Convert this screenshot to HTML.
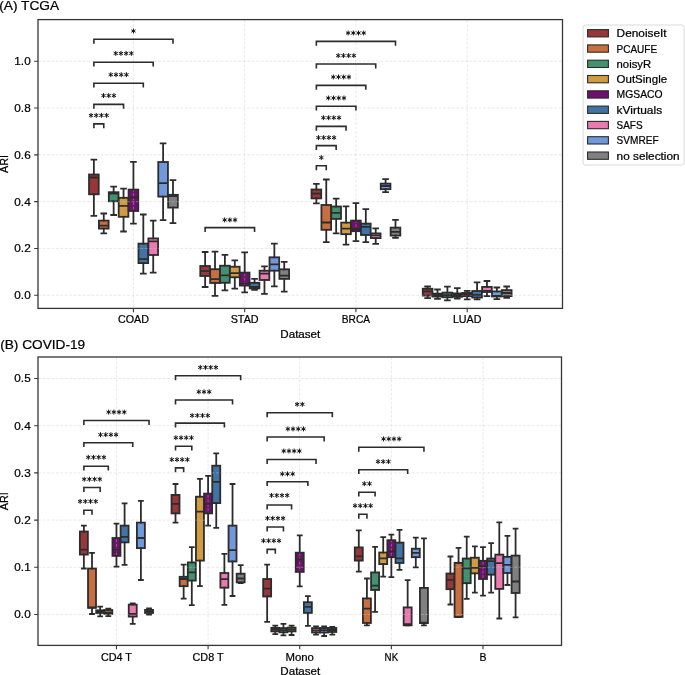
<!DOCTYPE html><html><head><meta charset="utf-8"><style>html,body{margin:0;padding:0;background:#fff;width:685px;height:675px;overflow:hidden}svg{display:block;will-change:transform}text{font-family:"Liberation Sans", sans-serif;fill:#000;stroke:#000;stroke-width:0.22px}</style></head><body>
<svg width="685" height="675" viewBox="0 0 685 675">
<rect width="685" height="675" fill="#fff"/>
<text x="-0.8" y="9.8" font-size="13.2" textLength="60" lengthAdjust="spacingAndGlyphs">(A) TCGA</text>
<text x="0.2" y="349" font-size="13.3" textLength="85" lengthAdjust="spacingAndGlyphs">(B) COVID-19</text>
<rect x="89.03" y="174.5" width="9.69" height="19.8" fill="#96373a" stroke="#2c2c2c" stroke-width="1.8"/>
<rect x="98.92" y="220.6" width="9.69" height="8" fill="#c86e41" stroke="#2c2c2c" stroke-width="1.8"/>
<rect x="108.81" y="192.2" width="9.69" height="9.1" fill="#429170" stroke="#2c2c2c" stroke-width="1.8"/>
<rect x="118.7" y="197.8" width="9.69" height="19" fill="#d09b43" stroke="#2c2c2c" stroke-width="1.8"/>
<rect x="128.59" y="189.6" width="9.69" height="21.4" fill="#70106e" stroke="#2c2c2c" stroke-width="1.8"/>
<rect x="138.47" y="243.6" width="9.69" height="19.5" fill="#4173a5" stroke="#2c2c2c" stroke-width="1.8"/>
<rect x="148.36" y="238.4" width="9.69" height="16.6" fill="#eb7ab1" stroke="#2c2c2c" stroke-width="1.8"/>
<rect x="158.25" y="162" width="9.69" height="34.6" fill="#7098da" stroke="#2c2c2c" stroke-width="1.8"/>
<rect x="168.14" y="194.8" width="9.69" height="12.8" fill="#808080" stroke="#2c2c2c" stroke-width="1.8"/>
<rect x="200.28" y="266" width="9.69" height="10" fill="#96373a" stroke="#2c2c2c" stroke-width="1.8"/>
<rect x="210.17" y="269.2" width="9.69" height="13.8" fill="#c86e41" stroke="#2c2c2c" stroke-width="1.8"/>
<rect x="220.06" y="265.7" width="9.69" height="17.1" fill="#429170" stroke="#2c2c2c" stroke-width="1.8"/>
<rect x="229.95" y="266.7" width="9.69" height="10.6" fill="#d09b43" stroke="#2c2c2c" stroke-width="1.8"/>
<rect x="239.84" y="272.6" width="9.69" height="13" fill="#70106e" stroke="#2c2c2c" stroke-width="1.8"/>
<rect x="249.72" y="282.8" width="9.69" height="5.6" fill="#4173a5" stroke="#2c2c2c" stroke-width="1.8"/>
<rect x="259.61" y="270.7" width="9.69" height="9.3" fill="#eb7ab1" stroke="#2c2c2c" stroke-width="1.8"/>
<rect x="269.5" y="257.3" width="9.69" height="13.4" fill="#7098da" stroke="#2c2c2c" stroke-width="1.8"/>
<rect x="279.39" y="269.3" width="9.69" height="9.6" fill="#808080" stroke="#2c2c2c" stroke-width="1.8"/>
<rect x="311.53" y="189.5" width="9.69" height="8.9" fill="#96373a" stroke="#2c2c2c" stroke-width="1.8"/>
<rect x="321.42" y="205" width="9.69" height="24.8" fill="#c86e41" stroke="#2c2c2c" stroke-width="1.8"/>
<rect x="331.31" y="206.5" width="9.69" height="12.4" fill="#429170" stroke="#2c2c2c" stroke-width="1.8"/>
<rect x="341.2" y="222.6" width="9.69" height="11.6" fill="#d09b43" stroke="#2c2c2c" stroke-width="1.8"/>
<rect x="351.08" y="220.6" width="9.69" height="10.6" fill="#70106e" stroke="#2c2c2c" stroke-width="1.8"/>
<rect x="360.97" y="223.6" width="9.69" height="11.4" fill="#4173a5" stroke="#2c2c2c" stroke-width="1.8"/>
<rect x="370.86" y="233.4" width="9.69" height="4.7" fill="#eb7ab1" stroke="#2c2c2c" stroke-width="1.8"/>
<rect x="380.75" y="183.6" width="9.69" height="5.6" fill="#7098da" stroke="#2c2c2c" stroke-width="1.8"/>
<rect x="390.64" y="227.6" width="9.69" height="8" fill="#808080" stroke="#2c2c2c" stroke-width="1.8"/>
<rect x="422.78" y="288.7" width="9.69" height="6.9" fill="#96373a" stroke="#2c2c2c" stroke-width="1.8"/>
<rect x="432.67" y="293.6" width="9.69" height="3" fill="#c86e41" stroke="#2c2c2c" stroke-width="1.8"/>
<rect x="442.56" y="292.6" width="9.69" height="4.7" fill="#429170" stroke="#2c2c2c" stroke-width="1.8"/>
<rect x="452.45" y="293.4" width="9.69" height="3.4" fill="#d09b43" stroke="#2c2c2c" stroke-width="1.8"/>
<rect x="462.33" y="292.9" width="9.69" height="3.3" fill="#70106e" stroke="#2c2c2c" stroke-width="1.8"/>
<rect x="472.22" y="291" width="9.69" height="6.6" fill="#4173a5" stroke="#2c2c2c" stroke-width="1.8"/>
<rect x="482.11" y="286.9" width="9.69" height="5.1" fill="#eb7ab1" stroke="#2c2c2c" stroke-width="1.8"/>
<rect x="492" y="291.4" width="9.69" height="5.1" fill="#7098da" stroke="#2c2c2c" stroke-width="1.8"/>
<rect x="501.89" y="290.1" width="9.69" height="6" fill="#808080" stroke="#2c2c2c" stroke-width="1.8"/>
<path d="M38 295.23H562.5M38 248.43H562.5M38 201.63H562.5M38 154.83H562.5M38 108.03H562.5M38 61.23H562.5M133.43 19.6V308.4M244.68 19.6V308.4M355.93 19.6V308.4M467.18 19.6V308.4" stroke="#c8c8c8" stroke-opacity="0.45" stroke-width="0.9" stroke-dasharray="2.9 1.55" fill="none"/>
<path d="M93.87 174.5V159.6M93.87 194.3V215.9M91.45 159.6H96.3M91.45 215.9H96.3M103.76 220.6V213.5M103.76 228.6V233.3M101.34 213.5H106.19M101.34 233.3H106.19M113.65 192.2V186.6M113.65 201.3V215M111.23 186.6H116.07M111.23 215H116.07M123.54 197.8V188.7M123.54 216.8V231.5M121.12 188.7H125.96M121.12 231.5H125.96M133.43 189.6V161.8M133.43 211V223.7M131.01 161.8H135.85M131.01 223.7H135.85M143.32 243.6V214.5M143.32 263.1V273.6M140.9 214.5H145.74M140.9 273.6H145.74M153.21 238.4V220.7M153.21 255V272.6M150.79 220.7H155.63M150.79 272.6H155.63M163.1 162V143.3M163.1 196.6V220.1M160.67 143.3H165.52M160.67 220.1H165.52M172.99 194.8V180.2M172.99 207.6V223.2M170.56 180.2H175.41M170.56 223.2H175.41M205.12 266V252M205.12 276V287M202.7 252H207.55M202.7 287H207.55M215.01 269.2V251.7M215.01 283V295.8M212.59 251.7H217.44M212.59 295.8H217.44M224.9 265.7V254.8M224.9 282.8V290.3M222.48 254.8H227.32M222.48 290.3H227.32M234.79 266.7V260.3M234.79 277.3V288.6M232.37 260.3H237.21M232.37 288.6H237.21M244.68 272.6V252.4M244.68 285.6V292.4M242.26 252.4H247.1M242.26 292.4H247.1M254.57 282.8V278.8M254.57 288.4V289.8M252.15 278.8H256.99M252.15 289.8H256.99M264.46 270.7V266.4M264.46 280V293.8M262.04 266.4H266.88M262.04 293.8H266.88M274.35 257.3V243.7M274.35 270.7V286.4M271.92 243.7H276.77M271.92 286.4H276.77M284.24 269.3V261.8M284.24 278.9V291.6M281.81 261.8H286.66M281.81 291.6H286.66M316.37 189.5V183.9M316.37 198.4V203.4M313.95 183.9H318.8M313.95 203.4H318.8M326.26 205V179.5M326.26 229.8V242.2M323.84 179.5H328.69M323.84 242.2H328.69M336.15 206.5V198.7M336.15 218.9V233.3M333.73 198.7H338.57M333.73 233.3H338.57M346.04 222.6V206.3M346.04 234.2V244.7M343.62 206.3H348.46M343.62 244.7H348.46M355.93 220.6V203.1M355.93 231.2V241.2M353.51 203.1H358.35M353.51 241.2H358.35M365.82 223.6V209.1M365.82 235V242.1M363.4 209.1H368.24M363.4 242.1H368.24M375.71 233.4V228.3M375.71 238.1V243.8M373.29 228.3H378.13M373.29 243.8H378.13M385.6 183.6V179.1M385.6 189.2V192.2M383.17 179.1H388.02M383.17 192.2H388.02M395.49 227.6V219.8M395.49 235.6V237.9M393.06 219.8H397.91M393.06 237.9H397.91M427.62 288.7V286.5M427.62 295.6V298.1M425.2 286.5H430.05M425.2 298.1H430.05M437.51 293.6V289.5M437.51 296.6V298.8M435.09 289.5H439.94M435.09 298.8H439.94M447.4 292.6V286.7M447.4 297.3V300.4M444.98 286.7H449.82M444.98 300.4H449.82M457.29 293.4V288.1M457.29 296.8V298.5M454.87 288.1H459.71M454.87 298.5H459.71M467.18 292.9V290.8M467.18 296.2V299.3M464.76 290.8H469.6M464.76 299.3H469.6M477.07 291V282.4M477.07 297.6V299.3M474.65 282.4H479.49M474.65 299.3H479.49M486.96 286.9V281M486.96 292V296.1M484.54 281H489.38M484.54 296.1H489.38M496.85 291.4V287.5M496.85 296.5V299.1M494.42 287.5H499.27M494.42 299.1H499.27M506.74 290.1V286.5M506.74 296.1V297.9M504.31 286.5H509.16M504.31 297.9H509.16" stroke="#2c2c2c" stroke-width="1.8" stroke-linecap="square" fill="none"/>
<path d="M89.03 177.5H98.72M98.92 225.6H108.61M108.81 193.6H118.5M118.7 205.8H128.39M128.59 197.5H138.28M138.47 259.1H148.16M148.36 241.3H158.05M158.25 183.2H167.94M168.14 196.2H177.83M200.28 271.2H209.97M210.17 279.2H219.86M220.06 275.4H229.75M229.95 273.2H239.64M239.84 283.6H249.53M249.72 287H259.41M259.61 273.6H269.3M269.5 264.4H279.19M279.39 275.6H289.08M311.53 193.7H321.22M321.42 222.5H331.11M331.31 212.8H341M341.2 228.6H350.89M351.08 229H360.78M360.97 226.8H370.66M370.86 235.3H380.55M380.75 186H390.44M390.64 231.8H400.33M422.78 291.4H432.47M432.67 295H442.36M442.56 295.1H452.25M452.45 295H462.14M462.33 294.4H472.03M472.22 294.8H481.91M482.11 290.9H491.8M492 296H501.69M501.89 293H511.58" stroke="#2c2c2c" stroke-width="1.8" fill="none"/>
<path d="M93.87 43.7V39.3H172.99V43.7M93.87 66.6V62.2H153.21V66.6M93.87 87.6V83.2H143.32V87.6M93.87 108.8V104.4H123.54V108.8M93.87 128.3V123.9H103.76V128.3M205.12 232V227.6H254.57V232M316.37 45.8V41.4H395.49V45.8M316.37 68.4V64H375.71V68.4M316.37 89.8V85.4H365.82V89.8M316.37 110.6V106.2H355.93V110.6M316.37 130.8V126.4H346.04V130.8M316.37 150V145.6H336.15V150M316.37 170.2V165.8H326.26V170.2" stroke="#2c2c2c" stroke-width="1.6" fill="none"/>
<path d="M133.43 28.55L133.43 33.45M131.31 29.77L135.55 32.23M135.55 29.77L131.31 32.23M115.74 50.95L115.74 55.85M113.62 52.17L117.86 54.62M117.86 52.17L113.62 54.62M120.94 50.95L120.94 55.85M118.82 52.17L123.06 54.62M123.06 52.17L118.82 54.62M126.14 50.95L126.14 55.85M124.02 52.17L128.26 54.62M128.26 52.17L124.02 54.62M131.34 50.95L131.34 55.85M129.22 52.17L133.46 54.62M133.46 52.17L129.22 54.62M110.8 72.25L110.8 77.15M108.67 73.48L112.92 75.92M112.92 73.48L108.67 75.92M116 72.25L116 77.15M113.87 73.48L118.12 75.92M118.12 73.48L113.87 75.92M121.2 72.25L121.2 77.15M119.07 73.48L123.32 75.92M123.32 73.48L119.07 75.92M126.4 72.25L126.4 77.15M124.27 73.48L128.52 75.92M128.52 73.48L124.27 75.92M103.51 93.15L103.51 98.05M101.39 94.38L105.63 96.82M105.63 94.38L101.39 96.82M108.71 93.15L108.71 98.05M106.59 94.38L110.83 96.82M110.83 94.38L106.59 96.82M113.91 93.15L113.91 98.05M111.79 94.38L116.03 96.82M116.03 94.38L111.79 96.82M91.02 112.95L91.02 117.85M88.9 114.18L93.14 116.62M93.14 114.18L88.9 116.62M96.22 112.95L96.22 117.85M94.1 114.18L98.34 116.62M98.34 114.18L94.1 116.62M101.42 112.95L101.42 117.85M99.3 114.18L103.54 116.62M103.54 114.18L99.3 116.62M106.62 112.95L106.62 117.85M104.5 114.18L108.74 116.62M108.74 114.18L104.5 116.62M224.65 217.45L224.65 222.35M222.52 218.68L226.77 221.12M226.77 218.68L222.52 221.12M229.85 217.45L229.85 222.35M227.72 218.68L231.97 221.12M231.97 218.68L227.72 221.12M235.05 217.45L235.05 222.35M232.92 218.68L237.17 221.12M237.17 218.68L232.92 221.12M348.13 30.55L348.13 35.45M346.01 31.77L350.25 34.23M350.25 31.77L346.01 34.23M353.33 30.55L353.33 35.45M351.21 31.77L355.45 34.23M355.45 31.77L351.21 34.23M358.53 30.55L358.53 35.45M356.41 31.77L360.65 34.23M360.65 31.77L356.41 34.23M363.73 30.55L363.73 35.45M361.61 31.77L365.85 34.23M365.85 31.77L361.61 34.23M338.24 53.15L338.24 58.05M336.12 54.38L340.36 56.83M340.36 54.38L336.12 56.83M343.44 53.15L343.44 58.05M341.32 54.38L345.56 56.83M345.56 54.38L341.32 56.83M348.64 53.15L348.64 58.05M346.52 54.38L350.76 56.83M350.76 54.38L346.52 56.83M353.84 53.15L353.84 58.05M351.72 54.38L355.96 56.83M355.96 54.38L351.72 56.83M333.3 74.55L333.3 79.45M331.17 75.78L335.42 78.22M335.42 75.78L331.17 78.22M338.5 74.55L338.5 79.45M336.37 75.78L340.62 78.22M340.62 75.78L336.37 78.22M343.7 74.55L343.7 79.45M341.57 75.78L345.82 78.22M345.82 75.78L341.57 78.22M348.9 74.55L348.9 79.45M346.77 75.78L351.02 78.22M351.02 75.78L346.77 78.22M328.35 95.55L328.35 100.45M326.23 96.78L330.47 99.22M330.47 96.78L326.23 99.22M333.55 95.55L333.55 100.45M331.43 96.78L335.67 99.22M335.67 96.78L331.43 99.22M338.75 95.55L338.75 100.45M336.63 96.78L340.87 99.22M340.87 96.78L336.63 99.22M343.95 95.55L343.95 100.45M341.83 96.78L346.07 99.22M346.07 96.78L341.83 99.22M323.41 115.25L323.41 120.15M321.29 116.48L325.53 118.92M325.53 116.48L321.29 118.92M328.61 115.25L328.61 120.15M326.49 116.48L330.73 118.92M330.73 116.48L326.49 118.92M333.81 115.25L333.81 120.15M331.69 116.48L335.93 118.92M335.93 116.48L331.69 118.92M339.01 115.25L339.01 120.15M336.89 116.48L341.13 118.92M341.13 116.48L336.89 118.92M318.46 135.15L318.46 140.05M316.34 136.38L320.58 138.82M320.58 136.38L316.34 138.82M323.66 135.15L323.66 140.05M321.54 136.38L325.78 138.82M325.78 136.38L321.54 138.82M328.86 135.15L328.86 140.05M326.74 136.38L330.98 138.82M330.98 136.38L326.74 138.82M334.06 135.15L334.06 140.05M331.94 136.38L336.18 138.82M336.18 136.38L331.94 138.82M321.32 155.15L321.32 160.05M319.2 156.38L323.44 158.82M323.44 156.38L319.2 158.82" stroke="#111" stroke-width="1.0" fill="none"/>
<rect x="38" y="19.6" width="524.5" height="288.8" fill="none" stroke="#363636" stroke-width="1.3"/>
<path d="M34.2 295.23H38M34.2 248.43H38M34.2 201.63H38M34.2 154.83H38M34.2 108.03H38M34.2 61.23H38M133.43 308.4V312.2M244.68 308.4V312.2M355.93 308.4V312.2M467.18 308.4V312.2" stroke="#363636" stroke-width="1.1" fill="none"/>
<text x="30.7" y="299.13" font-size="10.8" text-anchor="end" textLength="16.4" lengthAdjust="spacingAndGlyphs">0.0</text>
<text x="30.7" y="252.33" font-size="10.8" text-anchor="end" textLength="16.4" lengthAdjust="spacingAndGlyphs">0.2</text>
<text x="30.7" y="205.53" font-size="10.8" text-anchor="end" textLength="16.4" lengthAdjust="spacingAndGlyphs">0.4</text>
<text x="30.7" y="158.73" font-size="10.8" text-anchor="end" textLength="16.4" lengthAdjust="spacingAndGlyphs">0.6</text>
<text x="30.7" y="111.93" font-size="10.8" text-anchor="end" textLength="16.4" lengthAdjust="spacingAndGlyphs">0.8</text>
<text x="30.7" y="65.13" font-size="10.8" text-anchor="end" textLength="16.4" lengthAdjust="spacingAndGlyphs">1.0</text>
<rect x="79.88" y="531.5" width="7.98" height="23.1" fill="#96373a" stroke="#2c2c2c" stroke-width="1.8"/>
<rect x="88.02" y="568.5" width="7.98" height="39.3" fill="#c86e41" stroke="#2c2c2c" stroke-width="1.8"/>
<rect x="96.17" y="610.3" width="7.98" height="2.7" fill="#429170" stroke="#2c2c2c" stroke-width="1.8"/>
<rect x="104.31" y="610" width="7.98" height="3.9" fill="#d09b43" stroke="#2c2c2c" stroke-width="1.8"/>
<rect x="112.46" y="538" width="7.98" height="17.9" fill="#70106e" stroke="#2c2c2c" stroke-width="1.8"/>
<rect x="120.61" y="525.6" width="7.98" height="16.8" fill="#4173a5" stroke="#2c2c2c" stroke-width="1.8"/>
<rect x="128.75" y="604.6" width="7.98" height="12" fill="#eb7ab1" stroke="#2c2c2c" stroke-width="1.8"/>
<rect x="136.9" y="522.6" width="7.98" height="25.5" fill="#7098da" stroke="#2c2c2c" stroke-width="1.8"/>
<rect x="145.04" y="609.9" width="7.98" height="3.1" fill="#808080" stroke="#2c2c2c" stroke-width="1.8"/>
<rect x="171.52" y="494.9" width="7.98" height="18.5" fill="#96373a" stroke="#2c2c2c" stroke-width="1.8"/>
<rect x="179.66" y="576.8" width="7.98" height="9.4" fill="#c86e41" stroke="#2c2c2c" stroke-width="1.8"/>
<rect x="187.81" y="562.4" width="7.98" height="18.2" fill="#429170" stroke="#2c2c2c" stroke-width="1.8"/>
<rect x="195.95" y="496.7" width="7.98" height="63.9" fill="#d09b43" stroke="#2c2c2c" stroke-width="1.8"/>
<rect x="204.1" y="493.6" width="7.98" height="19.8" fill="#70106e" stroke="#2c2c2c" stroke-width="1.8"/>
<rect x="212.25" y="465.7" width="7.98" height="37.4" fill="#4173a5" stroke="#2c2c2c" stroke-width="1.8"/>
<rect x="220.39" y="573" width="7.98" height="14.7" fill="#eb7ab1" stroke="#2c2c2c" stroke-width="1.8"/>
<rect x="228.54" y="525.6" width="7.98" height="35.9" fill="#7098da" stroke="#2c2c2c" stroke-width="1.8"/>
<rect x="236.68" y="573.7" width="7.98" height="8.6" fill="#808080" stroke="#2c2c2c" stroke-width="1.8"/>
<rect x="263.16" y="579" width="7.98" height="17.5" fill="#96373a" stroke="#2c2c2c" stroke-width="1.8"/>
<rect x="271.3" y="627.9" width="7.98" height="3.5" fill="#c86e41" stroke="#2c2c2c" stroke-width="1.8"/>
<rect x="279.45" y="628.1" width="7.98" height="4.2" fill="#429170" stroke="#2c2c2c" stroke-width="1.8"/>
<rect x="287.59" y="627.6" width="7.98" height="3.8" fill="#d09b43" stroke="#2c2c2c" stroke-width="1.8"/>
<rect x="295.74" y="552.7" width="7.98" height="19.2" fill="#70106e" stroke="#2c2c2c" stroke-width="1.8"/>
<rect x="303.89" y="602.2" width="7.98" height="10.7" fill="#4173a5" stroke="#2c2c2c" stroke-width="1.8"/>
<rect x="312.03" y="628.1" width="7.98" height="4.4" fill="#eb7ab1" stroke="#2c2c2c" stroke-width="1.8"/>
<rect x="320.18" y="628" width="7.98" height="4.5" fill="#7098da" stroke="#2c2c2c" stroke-width="1.8"/>
<rect x="328.32" y="628" width="7.98" height="4" fill="#808080" stroke="#2c2c2c" stroke-width="1.8"/>
<rect x="354.79" y="547.4" width="7.98" height="13.2" fill="#96373a" stroke="#2c2c2c" stroke-width="1.8"/>
<rect x="362.93" y="598.4" width="7.98" height="24.6" fill="#c86e41" stroke="#2c2c2c" stroke-width="1.8"/>
<rect x="371.08" y="572.4" width="7.98" height="17.6" fill="#429170" stroke="#2c2c2c" stroke-width="1.8"/>
<rect x="379.22" y="552.5" width="7.98" height="11.6" fill="#d09b43" stroke="#2c2c2c" stroke-width="1.8"/>
<rect x="387.37" y="540.2" width="7.98" height="17" fill="#70106e" stroke="#2c2c2c" stroke-width="1.8"/>
<rect x="395.52" y="542.6" width="7.98" height="20.4" fill="#4173a5" stroke="#2c2c2c" stroke-width="1.8"/>
<rect x="403.66" y="607.4" width="7.98" height="17.9" fill="#eb7ab1" stroke="#2c2c2c" stroke-width="1.8"/>
<rect x="411.81" y="548.7" width="7.98" height="8.5" fill="#7098da" stroke="#2c2c2c" stroke-width="1.8"/>
<rect x="419.95" y="587.9" width="7.98" height="35.2" fill="#808080" stroke="#2c2c2c" stroke-width="1.8"/>
<rect x="446.43" y="573.5" width="7.98" height="15.7" fill="#96373a" stroke="#2c2c2c" stroke-width="1.8"/>
<rect x="454.57" y="562.8" width="7.98" height="54.2" fill="#c86e41" stroke="#2c2c2c" stroke-width="1.8"/>
<rect x="462.72" y="558.5" width="7.98" height="24.7" fill="#429170" stroke="#2c2c2c" stroke-width="1.8"/>
<rect x="470.86" y="557.7" width="7.98" height="15.7" fill="#d09b43" stroke="#2c2c2c" stroke-width="1.8"/>
<rect x="479.01" y="560.8" width="7.98" height="18.2" fill="#70106e" stroke="#2c2c2c" stroke-width="1.8"/>
<rect x="487.16" y="558.5" width="7.98" height="16.2" fill="#4173a5" stroke="#2c2c2c" stroke-width="1.8"/>
<rect x="495.3" y="554.6" width="7.98" height="34.3" fill="#eb7ab1" stroke="#2c2c2c" stroke-width="1.8"/>
<rect x="503.45" y="556.8" width="7.98" height="16.2" fill="#7098da" stroke="#2c2c2c" stroke-width="1.8"/>
<rect x="511.59" y="555.6" width="7.98" height="37.4" fill="#808080" stroke="#2c2c2c" stroke-width="1.8"/>
<path d="M38 614.44H561.5M38 567.26H561.5M38 520.08H561.5M38 472.9H561.5M38 425.72H561.5M38 378.54H561.5M116.45 357V645.4M208.09 357V645.4M299.73 357V645.4M391.36 357V645.4M483 357V645.4" stroke="#c8c8c8" stroke-opacity="0.45" stroke-width="0.9" stroke-dasharray="2.9 1.55" fill="none"/>
<path d="M83.87 531.5V525.6M83.87 554.6V568.5M81.87 525.6H85.86M81.87 568.5H85.86M92.01 568.5V552.8M92.01 607.8V614M90.02 552.8H94.01M90.02 614H94.01M100.16 610.3V606.7M100.16 613V616.4M98.16 606.7H102.15M98.16 616.4H102.15M108.3 610V608.7M108.3 613.9V616.1M106.31 608.7H110.3M106.31 616.1H110.3M116.45 538V523.7M116.45 555.9V566.7M114.45 523.7H118.45M114.45 566.7H118.45M124.6 525.6V503.3M124.6 542.4V564.8M122.6 503.3H126.59M122.6 564.8H126.59M132.74 604.6V603.3M132.74 616.6V623.9M130.75 603.3H134.74M130.75 623.9H134.74M140.89 522.6V500.9M140.89 548.1V580M138.89 500.9H142.88M138.89 580H142.88M149.03 609.9V608.5M149.03 613V614.6M147.04 608.5H151.03M147.04 614.6H151.03M175.51 494.9V484M175.51 513.4V522.7M173.51 484H177.5M173.51 522.7H177.5M183.65 576.8V564.6M183.65 586.2V598.6M181.66 564.6H185.65M181.66 598.6H185.65M191.8 562.4V547.2M191.8 580.6V605.1M189.8 547.2H193.79M189.8 605.1H193.79M199.94 496.7V478.9M199.94 560.6V586.2M197.95 478.9H201.94M197.95 586.2H201.94M208.09 493.6V475.8M208.09 513.4V525.6M206.09 475.8H210.09M206.09 525.6H210.09M216.24 465.7V453.4M216.24 503.1V527.9M214.24 453.4H218.23M214.24 527.9H218.23M224.38 573V553.8M224.38 587.7V604.8M222.39 553.8H226.38M222.39 604.8H226.38M232.53 525.6V484M232.53 561.5V596M230.53 484H234.52M230.53 596H234.52M240.67 573.7V565.1M240.67 582.3V583M238.68 565.1H242.67M238.68 583H242.67M267.15 579V564.7M267.15 596.5V621.8M265.15 564.7H269.14M265.15 621.8H269.14M275.29 627.9V625.7M275.29 631.4V634.2M273.3 625.7H277.29M273.3 634.2H277.29M283.44 628.1V623.8M283.44 632.3V635.3M281.44 623.8H285.43M281.44 635.3H285.43M291.58 627.6V625.7M291.58 631.4V635M289.59 625.7H293.58M289.59 635H293.58M299.73 552.7V535.4M299.73 571.9V586.3M297.74 535.4H301.73M297.74 586.3H301.73M307.88 602.2V596.1M307.88 612.9V625.8M305.88 596.1H309.87M305.88 625.8H309.87M316.02 628.1V626.3M316.02 632.5V634.7M314.03 626.3H318.02M314.03 634.7H318.02M324.17 628V626.5M324.17 632.5V636M322.17 626.5H326.16M322.17 636H326.16M332.31 628V626.8M332.31 632V634.7M330.32 626.8H334.31M330.32 634.7H334.31M358.78 547.4V530.3M358.78 560.6V571.7M356.78 530.3H360.77M356.78 571.7H360.77M366.92 598.4V578.5M366.92 623V625.3M364.93 578.5H368.92M364.93 625.3H368.92M375.07 572.4V546.9M375.07 590V611.8M373.07 546.9H377.06M373.07 611.8H377.06M383.21 552.5V537.1M383.21 564.1V576.7M381.22 537.1H385.21M381.22 576.7H385.21M391.36 540.2V534.6M391.36 557.2V577.2M389.37 534.6H393.36M389.37 577.2H393.36M399.51 542.6V529.8M399.51 563V569.8M397.51 529.8H401.5M397.51 569.8H401.5M407.65 607.4V580.2M407.65 625.3V625.3M405.66 580.2H409.65M405.66 625.3H409.65M415.8 548.7V537.7M415.8 557.2V567.3M413.8 537.7H417.79M413.8 567.3H417.79M423.94 587.9V538.3M423.94 623.1V625.3M421.95 538.3H425.94M421.95 625.3H425.94M450.42 573.5V556.5M450.42 589.2V604.5M448.42 556.5H452.41M448.42 604.5H452.41M458.56 562.8V547.8M458.56 617V617M456.57 547.8H460.56M456.57 617H460.56M466.71 558.5V536.7M466.71 583.2V598.9M464.71 536.7H468.7M464.71 598.9H468.7M474.85 557.7V546.3M474.85 573.4V592.6M472.86 546.3H476.85M472.86 592.6H476.85M483 560.8V547.1M483 579V595.7M481 547.1H485M481 595.7H485M491.15 558.5V543.2M491.15 574.7V592.6M489.15 543.2H493.14M489.15 592.6H493.14M499.29 554.6V522.4M499.29 588.9V618.5M497.3 522.4H501.29M497.3 618.5H501.29M507.44 556.8V535.9M507.44 573V585M505.44 535.9H509.43M505.44 585H509.43M515.58 555.6V528.7M515.58 593V617.3M513.59 528.7H517.58M513.59 617.3H517.58" stroke="#2c2c2c" stroke-width="1.8" stroke-linecap="square" fill="none"/>
<path d="M79.88 549.6H87.86M88.02 607.5H96M96.17 611.7H104.15M104.31 612.5H112.29M112.46 549.6H120.44M120.61 536.9H128.59M128.75 613.8H136.73M136.9 538H144.88M145.04 611.3H153.02M171.52 503.8H179.5M179.66 579H187.64M187.81 572.4H195.79M195.95 511.6H203.93M204.1 503.8H212.08M212.25 481.8H220.23M220.39 579.2H228.37M228.54 550.1H236.52M236.68 578.5H244.66M263.16 588.7H271.14M271.3 629.5H279.28M279.45 630.2H287.43M287.59 629.5H295.57M295.74 559.4H303.72M303.89 606.8H311.87M312.03 630.3H320.01M320.18 630.2H328.16M328.32 630H336.3M354.79 556.4H362.77M362.93 608.7H370.91M371.08 585.7H379.06M379.22 558.4H387.2M387.37 551.3H395.35M395.52 558.4H403.5M403.66 624.1H411.64M411.81 552.8H419.79M419.95 622.6H427.93M446.43 579.8H454.41M454.57 562.8H462.55M462.72 568.4H470.7M470.86 567.9H478.84M479.01 566.2H486.99M487.16 561.1H495.14M495.3 563.1H503.28M503.45 564.8H511.43M511.59 581.5H519.57" stroke="#2c2c2c" stroke-width="1.8" fill="none"/>
<path d="M83.87 424.9V420.5H149.03V424.9M83.87 447.1V442.7H132.74V447.1M83.87 470.6V466.2H108.3V470.6M83.87 491.9V487.5H100.16V491.9M83.87 514.7V510.3H92.01V514.7M175.51 380.2V375.8H240.67V380.2M175.51 404.4V400H232.53V404.4M175.51 427.5V423.1H224.38V427.5M175.51 450.6V446.2H191.8V450.6M175.51 472.3V467.9H183.65V472.3M267.15 417.2V412.8H332.31V417.2M267.15 441.4V437H324.17V441.4M267.15 463.9V459.5H316.02V463.9M267.15 486.1V481.7H307.88V486.1M267.15 509.4V505H291.58V509.4M267.15 531.4V527H283.44V531.4M267.15 553.8V549.4H275.29V553.8M358.78 451.7V447.3H423.94V451.7M358.78 474.1V469.7H407.65V474.1M358.78 496.6V492.2H375.07V496.6M358.78 518.7V514.3H366.92V518.7" stroke="#2c2c2c" stroke-width="1.6" fill="none"/>
<path d="M108.65 409.65L108.65 414.55M106.53 410.88L110.77 413.33M110.77 410.88L106.53 413.33M113.85 409.65L113.85 414.55M111.73 410.88L115.97 413.33M115.97 410.88L111.73 413.33M119.05 409.65L119.05 414.55M116.93 410.88L121.17 413.33M121.17 410.88L116.93 413.33M124.25 409.65L124.25 414.55M122.13 410.88L126.37 413.33M126.37 410.88L122.13 413.33M100.5 432.25L100.5 437.15M98.38 433.47L102.63 435.93M102.63 433.47L98.38 435.93M105.7 432.25L105.7 437.15M103.58 433.47L107.83 435.93M107.83 433.47L103.58 435.93M110.9 432.25L110.9 437.15M108.78 433.47L113.03 435.93M113.03 433.47L108.78 435.93M116.1 432.25L116.1 437.15M113.98 433.47L118.23 435.93M118.23 433.47L113.98 435.93M88.29 454.85L88.29 459.75M86.16 456.07L90.41 458.53M90.41 456.07L86.16 458.53M93.49 454.85L93.49 459.75M91.36 456.07L95.61 458.53M95.61 456.07L91.36 458.53M98.69 454.85L98.69 459.75M96.56 456.07L100.81 458.53M100.81 456.07L96.56 458.53M103.89 454.85L103.89 459.75M101.76 456.07L106.01 458.53M106.01 456.07L101.76 458.53M84.21 476.75L84.21 481.65M82.09 477.97L86.33 480.43M86.33 477.97L82.09 480.43M89.41 476.75L89.41 481.65M87.29 477.97L91.53 480.43M91.53 477.97L87.29 480.43M94.61 476.75L94.61 481.65M92.49 477.97L96.73 480.43M96.73 477.97L92.49 480.43M99.81 476.75L99.81 481.65M97.69 477.97L101.93 480.43M101.93 477.97L97.69 480.43M80.14 498.95L80.14 503.85M78.02 500.17L82.26 502.62M82.26 500.17L78.02 502.62M85.34 498.95L85.34 503.85M83.22 500.17L87.46 502.62M87.46 500.17L83.22 502.62M90.54 498.95L90.54 503.85M88.42 500.17L92.66 502.62M92.66 500.17L88.42 502.62M95.74 498.95L95.74 503.85M93.62 500.17L97.86 502.62M97.86 500.17L93.62 502.62M200.29 364.95L200.29 369.85M198.17 366.17L202.41 368.62M202.41 366.17L198.17 368.62M205.49 364.95L205.49 369.85M203.37 366.17L207.61 368.62M207.61 366.17L203.37 368.62M210.69 364.95L210.69 369.85M208.57 366.17L212.81 368.62M212.81 366.17L208.57 368.62M215.89 364.95L215.89 369.85M213.77 366.17L218.01 368.62M218.01 366.17L213.77 368.62M198.82 389.35L198.82 394.25M196.7 390.57L200.94 393.03M200.94 390.57L196.7 393.03M204.02 389.35L204.02 394.25M201.9 390.57L206.14 393.03M206.14 390.57L201.9 393.03M209.22 389.35L209.22 394.25M207.1 390.57L211.34 393.03M211.34 390.57L207.1 393.03M192.14 413.05L192.14 417.95M190.02 414.27L194.27 416.73M194.27 414.27L190.02 416.73M197.34 413.05L197.34 417.95M195.22 414.27L199.47 416.73M199.47 414.27L195.22 416.73M202.54 413.05L202.54 417.95M200.42 414.27L204.67 416.73M204.67 414.27L200.42 416.73M207.74 413.05L207.74 417.95M205.62 414.27L209.87 416.73M209.87 414.27L205.62 416.73M175.85 435.25L175.85 440.15M173.73 436.47L177.97 438.93M177.97 436.47L173.73 438.93M181.05 435.25L181.05 440.15M178.93 436.47L183.17 438.93M183.17 436.47L178.93 438.93M186.25 435.25L186.25 440.15M184.13 436.47L188.37 438.93M188.37 436.47L184.13 438.93M191.45 435.25L191.45 440.15M189.33 436.47L193.57 438.93M193.57 436.47L189.33 438.93M171.78 457.15L171.78 462.05M169.66 458.38L173.9 460.83M173.9 458.38L169.66 460.83M176.98 457.15L176.98 462.05M174.86 458.38L179.1 460.83M179.1 458.38L174.86 460.83M182.18 457.15L182.18 462.05M180.06 458.38L184.3 460.83M184.3 458.38L180.06 460.83M187.38 457.15L187.38 462.05M185.26 458.38L189.5 460.83M189.5 458.38L185.26 460.83M297.13 401.85L297.13 406.75M295.01 403.07L299.25 405.53M299.25 403.07L295.01 405.53M302.33 401.85L302.33 406.75M300.21 403.07L304.45 405.53M304.45 403.07L300.21 405.53M287.86 426.45L287.86 431.35M285.74 427.67L289.98 430.12M289.98 427.67L285.74 430.12M293.06 426.45L293.06 431.35M290.94 427.67L295.18 430.12M295.18 427.67L290.94 430.12M298.26 426.45L298.26 431.35M296.14 427.67L300.38 430.12M300.38 427.67L296.14 430.12M303.46 426.45L303.46 431.35M301.34 427.67L305.58 430.12M305.58 427.67L301.34 430.12M283.78 448.55L283.78 453.45M281.66 449.77L285.91 452.23M285.91 449.77L281.66 452.23M288.98 448.55L288.98 453.45M286.86 449.77L291.11 452.23M291.11 449.77L286.86 452.23M294.18 448.55L294.18 453.45M292.06 449.77L296.31 452.23M296.31 449.77L292.06 452.23M299.38 448.55L299.38 453.45M297.26 449.77L301.51 452.23M301.51 449.77L297.26 452.23M282.31 471.45L282.31 476.35M280.19 472.67L284.43 475.12M284.43 472.67L280.19 475.12M287.51 471.45L287.51 476.35M285.39 472.67L289.63 475.12M289.63 472.67L285.39 475.12M292.71 471.45L292.71 476.35M290.59 472.67L294.83 475.12M294.83 472.67L290.59 475.12M271.56 492.95L271.56 497.85M269.44 494.17L273.69 496.62M273.69 494.17L269.44 496.62M276.76 492.95L276.76 497.85M274.64 494.17L278.89 496.62M278.89 494.17L274.64 496.62M281.97 492.95L281.97 497.85M279.84 494.17L284.09 496.62M284.09 494.17L279.84 496.62M287.17 492.95L287.17 497.85M285.04 494.17L289.29 496.62M289.29 494.17L285.04 496.62M267.49 515.85L267.49 520.75M265.37 517.07L269.61 519.52M269.61 517.07L265.37 519.52M272.69 515.85L272.69 520.75M270.57 517.07L274.81 519.52M274.81 517.07L270.57 519.52M277.89 515.85L277.89 520.75M275.77 517.07L280.01 519.52M280.01 517.07L275.77 519.52M283.09 515.85L283.09 520.75M280.97 517.07L285.21 519.52M285.21 517.07L280.97 519.52M263.42 538.25L263.42 543.15M261.3 539.48L265.54 541.93M265.54 539.48L261.3 541.93M268.62 538.25L268.62 543.15M266.5 539.48L270.74 541.93M270.74 539.48L266.5 541.93M273.82 538.25L273.82 543.15M271.7 539.48L275.94 541.93M275.94 539.48L271.7 541.93M279.02 538.25L279.02 543.15M276.9 539.48L281.14 541.93M281.14 539.48L276.9 541.93M383.56 436.45L383.56 441.35M381.44 437.67L385.68 440.12M385.68 437.67L381.44 440.12M388.76 436.45L388.76 441.35M386.64 437.67L390.88 440.12M390.88 437.67L386.64 440.12M393.96 436.45L393.96 441.35M391.84 437.67L396.08 440.12M396.08 437.67L391.84 440.12M399.16 436.45L399.16 441.35M397.04 437.67L401.28 440.12M401.28 437.67L397.04 440.12M378.01 459.15L378.01 464.05M375.89 460.38L380.14 462.83M380.14 460.38L375.89 462.83M383.21 459.15L383.21 464.05M381.09 460.38L385.34 462.83M385.34 460.38L381.09 462.83M388.41 459.15L388.41 464.05M386.29 460.38L390.54 462.83M390.54 460.38L386.29 462.83M364.32 481.25L364.32 486.15M362.2 482.47L366.44 484.93M366.44 482.47L362.2 484.93M369.52 481.25L369.52 486.15M367.4 482.47L371.64 484.93M371.64 482.47L367.4 484.93M355.05 503.25L355.05 508.15M352.93 504.47L357.17 506.93M357.17 504.47L352.93 506.93M360.25 503.25L360.25 508.15M358.13 504.47L362.37 506.93M362.37 504.47L358.13 506.93M365.45 503.25L365.45 508.15M363.33 504.47L367.57 506.93M367.57 504.47L363.33 506.93M370.65 503.25L370.65 508.15M368.53 504.47L372.77 506.93M372.77 504.47L368.53 506.93" stroke="#111" stroke-width="1.0" fill="none"/>
<rect x="38" y="357" width="523.5" height="288.4" fill="none" stroke="#363636" stroke-width="1.3"/>
<path d="M34.2 614.44H38M34.2 567.26H38M34.2 520.08H38M34.2 472.9H38M34.2 425.72H38M34.2 378.54H38M116.45 645.4V649.2M208.09 645.4V649.2M299.73 645.4V649.2M391.36 645.4V649.2M483 645.4V649.2" stroke="#363636" stroke-width="1.1" fill="none"/>
<text x="30.7" y="618.34" font-size="10.8" text-anchor="end" textLength="16.4" lengthAdjust="spacingAndGlyphs">0.0</text>
<text x="30.7" y="571.16" font-size="10.8" text-anchor="end" textLength="16.4" lengthAdjust="spacingAndGlyphs">0.1</text>
<text x="30.7" y="523.98" font-size="10.8" text-anchor="end" textLength="16.4" lengthAdjust="spacingAndGlyphs">0.2</text>
<text x="30.7" y="476.8" font-size="10.8" text-anchor="end" textLength="16.4" lengthAdjust="spacingAndGlyphs">0.3</text>
<text x="30.7" y="429.62" font-size="10.8" text-anchor="end" textLength="16.4" lengthAdjust="spacingAndGlyphs">0.4</text>
<text x="30.7" y="382.44" font-size="10.8" text-anchor="end" textLength="16.4" lengthAdjust="spacingAndGlyphs">0.5</text>
<text x="133.43" y="323.3" font-size="10.4" text-anchor="middle" textLength="31" lengthAdjust="spacingAndGlyphs">COAD</text>
<text x="244.68" y="323.3" font-size="10.4" text-anchor="middle" textLength="28" lengthAdjust="spacingAndGlyphs">STAD</text>
<text x="355.93" y="323.3" font-size="10.4" text-anchor="middle" textLength="28.3" lengthAdjust="spacingAndGlyphs">BRCA</text>
<text x="467.18" y="323.3" font-size="10.4" text-anchor="middle" textLength="28.5" lengthAdjust="spacingAndGlyphs">LUAD</text>
<text x="116.45" y="660.5" font-size="10.4" text-anchor="middle" textLength="31" lengthAdjust="spacingAndGlyphs">CD4 T</text>
<text x="208.09" y="660.5" font-size="10.4" text-anchor="middle" textLength="31" lengthAdjust="spacingAndGlyphs">CD8 T</text>
<text x="299.73" y="660.5" font-size="10.4" text-anchor="middle" textLength="28.5" lengthAdjust="spacingAndGlyphs">Mono</text>
<text x="391.36" y="660.5" font-size="10.4" text-anchor="middle" textLength="13.5" lengthAdjust="spacingAndGlyphs">NK</text>
<text x="483" y="660.5" font-size="10.4" text-anchor="middle" textLength="7" lengthAdjust="spacingAndGlyphs">B</text>
<text x="300.3" y="337.5" font-size="10.4" text-anchor="middle" textLength="40" lengthAdjust="spacingAndGlyphs">Dataset</text>
<text x="300.3" y="674.7" font-size="10.4" text-anchor="middle" textLength="40" lengthAdjust="spacingAndGlyphs">Dataset</text>
<text x="0" y="0" font-size="10.4" text-anchor="middle" textLength="18" lengthAdjust="spacingAndGlyphs" transform="translate(8.1 164) rotate(-90)">ARI</text>
<text x="0" y="0" font-size="10.4" text-anchor="middle" textLength="18" lengthAdjust="spacingAndGlyphs" transform="translate(8.1 501.2) rotate(-90)">ARI</text>
<rect x="583.1" y="25.0" width="101.0" height="140.0" rx="2.5" ry="2.5" fill="#fff" stroke="#dadada" stroke-width="1"/>
<rect x="587.6" y="29.6" width="20.8" height="7.3" fill="#96373a" stroke="#2c2c2c" stroke-width="1.1"/>
<text x="616.6" y="37.2" font-size="10.4" textLength="50" lengthAdjust="spacingAndGlyphs">DenoiseIt</text>
<rect x="587.6" y="44.9" width="20.8" height="7.3" fill="#c86e41" stroke="#2c2c2c" stroke-width="1.1"/>
<text x="616.6" y="52.5" font-size="10.4" textLength="40.5" lengthAdjust="spacingAndGlyphs">PCAUFE</text>
<rect x="587.6" y="60.2" width="20.8" height="7.3" fill="#429170" stroke="#2c2c2c" stroke-width="1.1"/>
<text x="616.6" y="67.8" font-size="10.4" textLength="34.5" lengthAdjust="spacingAndGlyphs">noisyR</text>
<rect x="587.6" y="75.5" width="20.8" height="7.3" fill="#d09b43" stroke="#2c2c2c" stroke-width="1.1"/>
<text x="616.6" y="83.1" font-size="10.4" textLength="50.5" lengthAdjust="spacingAndGlyphs">OutSingle</text>
<rect x="587.6" y="90.8" width="20.8" height="7.3" fill="#70106e" stroke="#2c2c2c" stroke-width="1.1"/>
<text x="616.6" y="98.4" font-size="10.4" textLength="46" lengthAdjust="spacingAndGlyphs">MGSACO</text>
<rect x="587.6" y="106.1" width="20.8" height="7.3" fill="#4173a5" stroke="#2c2c2c" stroke-width="1.1"/>
<text x="616.6" y="113.7" font-size="10.4" textLength="45.5" lengthAdjust="spacingAndGlyphs">kVirtuals</text>
<rect x="587.6" y="121.4" width="20.8" height="7.3" fill="#eb7ab1" stroke="#2c2c2c" stroke-width="1.1"/>
<text x="616.6" y="129" font-size="10.4" textLength="26" lengthAdjust="spacingAndGlyphs">SAFS</text>
<rect x="587.6" y="136.7" width="20.8" height="7.3" fill="#7098da" stroke="#2c2c2c" stroke-width="1.1"/>
<text x="616.6" y="144.3" font-size="10.4" textLength="42" lengthAdjust="spacingAndGlyphs">SVMREF</text>
<rect x="587.6" y="152" width="20.8" height="7.3" fill="#808080" stroke="#2c2c2c" stroke-width="1.1"/>
<text x="616.6" y="159.6" font-size="10.4" textLength="63" lengthAdjust="spacingAndGlyphs">no selection</text>
</svg></body></html>
